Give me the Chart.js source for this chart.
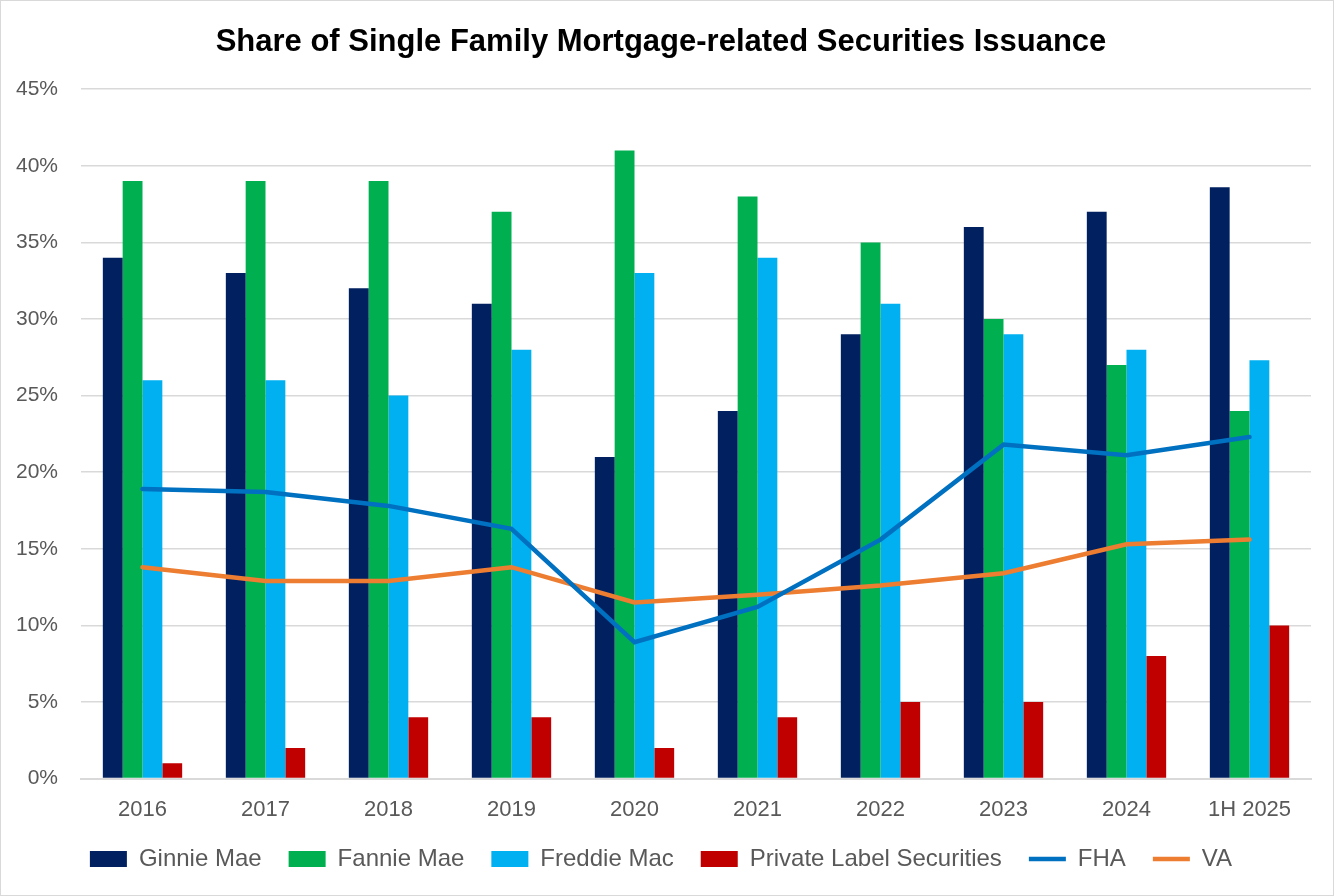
<!DOCTYPE html>
<html>
<head>
<meta charset="utf-8">
<script src="https://cdn.jsdelivr.net/npm/chart.js@4"></script>
<style>
  html, body { margin: 0; padding: 0; background: #fff; }
  #wrap { width: 1332px; height: 894px; border: 1px solid #d9d9d9; position: relative; }
</style>
</head>
<body>
<div id="wrap"><canvas id="shareChart"></canvas></div>
<script>
const years = ["2016", "2017", "2018", "2019", "2020", "2021", "2022", "2023", "2024", "1H 2025"];
const ginnieMae = [34, 33, 32, 31, 21, 24, 29, 36, 37, 38.6];
const fannieMae = [39, 39, 39, 37, 41, 38, 35, 30, 27, 24];
const freddieMac = [26, 26, 25, 28, 33, 34, 31, 29, 28, 27.3];
const privateLabel = [1, 2, 4, 4, 2, 4, 5, 5, 8, 10];
const fha = [18.9, 18.7, 17.8, 16.3, 8.9, 11.2, 15.6, 21.8, 21.1, 22.3];
const va = [13.8, 12.9, 12.9, 13.8, 11.5, 12.0, 12.6, 13.4, 15.3, 15.6];
const yTicks = [0, 5, 10, 15, 20, 25, 30, 35, 40, 45];

const grey = "#595959";
const gridGrey = "#d9d9d9";
const font = "'Liberation Sans', Arial, sans-serif";

function bar(label, data, color) {
  return { type: "bar", label, data, backgroundColor: color, borderWidth: 0, order: 2,
           pointStyle: "rect" };
}

function line(label, data, color) {
  return { type: "line", label, data, borderColor: color, backgroundColor: color,
           borderWidth: 4.5, pointRadius: 0, tension: 0, order: 1,
           pointStyle: "line", borderCapStyle: "round" };
}

new Chart(document.getElementById("shareChart"), {
  data: {
    labels: years,
    datasets: [
      bar("Ginnie Mae", ginnieMae, "#002060"),
      bar("Fannie Mae", fannieMae, "#00B050"),
      bar("Freddie Mac", freddieMac, "#00B0F0"),
      bar("Private Label Securities", privateLabel, "#C00000"),
      line("FHA", fha, "#0070C0"),
      line("VA", va, "#ED7D31")
    ]
  },
  options: {
    responsive: true,
    maintainAspectRatio: false,
    animation: false,
    layout: { padding: { left: 10, right: 22, top: 0, bottom: 14 } },
    datasets: {
      bar: { categoryPercentage: 0.645, barPercentage: 1.0 }
    },
    plugins: {
      title: {
        display: true,
        text: "Share of Single Family Mortgage-related Securities Issuance",
        color: "#000",
        font: { family: font, size: 31, weight: "bold" },
        padding: { top: 23, bottom: 28 }
      },
      legend: {
        position: "bottom",
        labels: {
          usePointStyle: true,
          pointStyleWidth: 37,
          boxHeight: 16,
          color: grey,
          padding: 27,
          font: { family: font, size: 24 },
          sort: (a, b) => a.datasetIndex - b.datasetIndex
        }
      },
      tooltip: { enabled: false }
    },
    scales: {
      x: {
        grid: { display: false, drawTicks: false },
        border: { display: true, color: gridGrey, width: 2 },
        ticks: { color: grey, padding: 18, font: { family: font, size: 22 } },
        afterFit: axis => { axis.height -= 21; }
      },
      y: {
        min: 0,
        max: 45,
        afterBuildTicks: axis => { axis.ticks = yTicks.map(v => ({ value: v })); },
        afterFit: axis => { axis.width = 70; },
        grid: { color: gridGrey, lineWidth: 1.5, drawTicks: false },
        border: { display: false },
        ticks: {
          color: grey,
          padding: 23,
          font: { family: font, size: 21 },
          callback: v => v + "%"
        }
      }
    }
  }
});
</script>
</body>
</html>
